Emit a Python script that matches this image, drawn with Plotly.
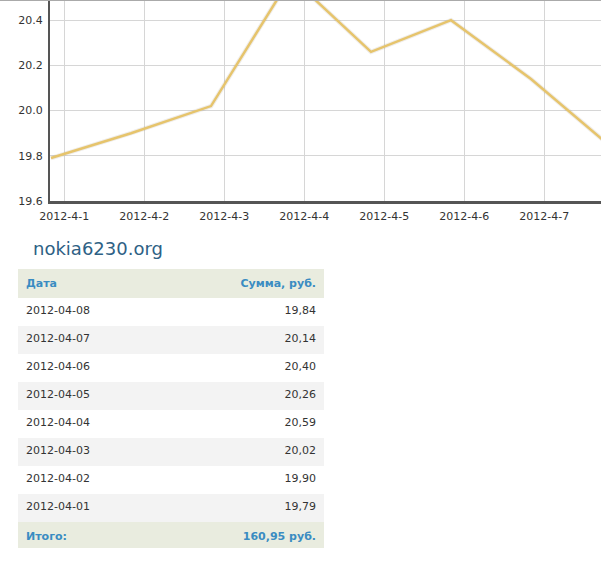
import plotly.graph_objects as go

# ---- data ----
dates = ["2012-04-01", "2012-04-02", "2012-04-03", "2012-04-04",
         "2012-04-05", "2012-04-06", "2012-04-07", "2012-04-08"]
amounts = [19.79, 19.90, 20.02, 20.59, 20.26, 20.40, 20.14, 19.84]
tick_labels = ["2012-4-1", "2012-4-2", "2012-4-3", "2012-4-4",
               "2012-4-5", "2012-4-6", "2012-4-7"]
y_ticks = [19.6, 19.8, 20.0, 20.2, 20.4]
site_name = "nokia6230.org"
header_labels = ["Дата", "Сумма, руб."]
total_label = "Итого:"
total_value = "160,95 руб."

W, H = 601, 567
FONT = "Verdana, DejaVu Sans, sans-serif"
TICK_SHIFT = 4 / 24  # ticks sit 4 hours after the points (time-zone offset)

x_idx = list(range(len(dates)))

fig = go.Figure()
# soft shadow under the line
fig.add_trace(go.Scatter(x=x_idx, y=amounts, mode="lines",
                         line=dict(color="rgba(120,110,80,0.12)", width=4.5),
                         hoverinfo="skip", showlegend=False))
fig.add_trace(go.Scatter(x=x_idx, y=amounts, mode="lines",
                         line=dict(color="#e6c46c", width=2.5),
                         showlegend=False))

# table (newest first, with total row)
rows_dates = list(reversed(dates)) + [f"<b>{total_label}</b>"]
rows_vals = [f"{v:.2f}".replace(".", ",") for v in reversed(amounts)] + [f"<b>{total_value}</b>"]
n = len(rows_dates)
fills = []
for i in range(n):
    if i == n - 1:
        fills.append("#e9ecdf")
    elif i % 2 == 0:
        fills.append("#ffffff")
    else:
        fills.append("#f3f3f3")
fcolors = ["#333333"] * (n - 1) + ["#3a8cc2"]

fig.add_trace(go.Table(
    domain=dict(x=[18 / W, 324 / W], y=[1 - 548 / H, 1 - 269 / H]),
    columnwidth=[150, 152],
    header=dict(values=[f"<b>{h}</b>" for h in header_labels],
                align=["left", "right"],
                fill_color="#e9ecdf",
                line=dict(width=0, color="#e9ecdf"),
                font=dict(family=FONT, size=11, color="#3a8cc2"),
                height=25),
    cells=dict(values=[rows_dates, rows_vals],
               align=["left", "right"],
               fill_color=[fills, fills],
               line=dict(width=0, color="#ffffff"),
               font=dict(family=FONT, size=11, color=[fcolors, fcolors]),
               height=28),
))

fig.add_annotation(text=site_name, xref="paper", yref="paper",
                   x=31 / W, y=1 - 248 / H, xanchor="left", yanchor="middle",
                   showarrow=False,
                   font=dict(family=FONT, size=18, color="#2e6185"))

# top border line
fig.add_shape(type="line", xref="paper", yref="paper", x0=0, x1=1,
              y0=1 - 0.5 / H, y1=1 - 0.5 / H,
              line=dict(color="#aaaaaa", width=1))

fig.update_layout(
    width=W, height=H,
    margin=dict(l=0, r=0, t=0, b=0, autoexpand=False),
    paper_bgcolor="white", plot_bgcolor="white",
    font=dict(family=FONT, size=11, color="#333333"),
    xaxis=dict(domain=[50 / W, 1], range=[-0.0125, 6.875],
               tickvals=[i + TICK_SHIFT for i in range(len(tick_labels))],
               ticktext=tick_labels, automargin=False,
               showgrid=True, gridcolor="#d6d6d6", gridwidth=1,
               showline=True, linecolor="#555555", linewidth=3,
               ticks="outside", ticklen=3, tickcolor="rgba(0,0,0,0)",
               zeroline=False, fixedrange=True),
    yaxis=dict(domain=[1 - 201 / H, 1 - 1 / H], range=[19.6, 20.485],
               tickvals=y_ticks, tickformat=".1f", automargin=False,
               showgrid=True, gridcolor="#d6d6d6", gridwidth=1,
               showline=True, linecolor="#555555", linewidth=2,
               ticks="outside", ticklen=3, tickcolor="rgba(0,0,0,0)",
               zeroline=False, fixedrange=True),
)

fig.write_html(
    "out.html",
    config={"displayModeBar": False},
    post_script="document.body.style.margin='0';document.body.style.overflow='hidden';",
)
